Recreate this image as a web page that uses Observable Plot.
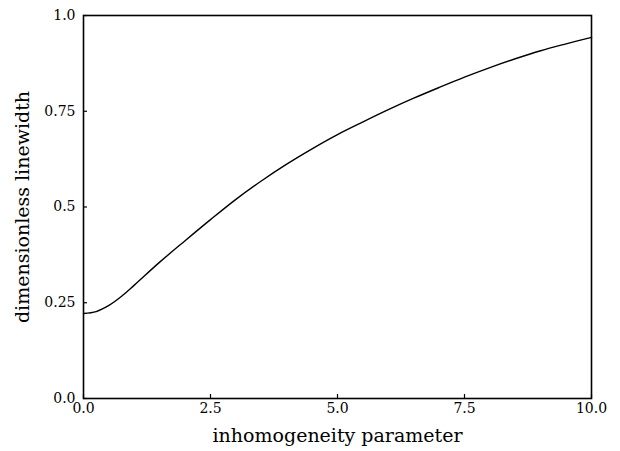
<!DOCTYPE html>
<html>
<head>
<meta charset="utf-8">
<script src="https://cdn.jsdelivr.net/npm/d3@7"></script>
<script src="https://cdn.jsdelivr.net/npm/@observablehq/plot@0.6"></script>
<style>
  html, body { margin: 0; padding: 0; background: #fff; }
  #chart svg { display: block; }
</style>
</head>
<body>
<div id="chart"></div>
<script>
const xValues = [0, 0.25, 0.5, 0.75, 1, 1.5, 2, 2.5, 3, 3.5, 4, 4.5, 5, 5.5, 6, 6.5, 7, 7.5, 8, 8.5, 9, 9.5, 10];
const yValues = [0.222, 0.227, 0.243, 0.267, 0.296, 0.356, 0.412, 0.467, 0.520, 0.568, 0.612, 0.652, 0.689, 0.722, 0.754, 0.784, 0.812, 0.839, 0.864, 0.887, 0.908, 0.926, 0.943];
const xTicks = [0, 2.5, 5, 7.5, 10];
const xTickLabels = ["0.0", "2.5", "5.0", "7.5", "10.0"];
const yTicks = [0, 0.25, 0.5, 0.75, 1];
const yTickLabels = ["0.0", "0.25", "0.5", "0.75", "1.0"];
const xLabel = "inhomogeneity parameter";
const yLabel = "dimensionless linewidth";

const data = xValues.map((x, i) => ({x, y: yValues[i]}));

const chart = Plot.plot({
  width: 620,
  height: 451,
  marginLeft: 83,
  marginRight: 29,
  marginTop: 15,
  marginBottom: 53,
  style: {fontFamily: "DejaVu Serif", fontSize: "14px", color: "#000", background: "#fff"},
  x: {domain: [0, 10]},
  y: {domain: [0, 1]},
  marks: [
    Plot.axisX({ticks: xTicks, tickSize: -4, text: null, label: null, strokeWidth: 1.2}),
    Plot.axisX({ticks: xTicks, tickSize: 0, tickPadding: 5, tickFormat: d => xTickLabels[xTicks.indexOf(d)], label: null, fontSize: 14}),
    Plot.axisY({ticks: yTicks, tickSize: -4, text: null, label: null, strokeWidth: 1.2}),
    Plot.axisY({ticks: yTicks, tickSize: 0, tickPadding: 8, tickFormat: d => yTickLabels[yTicks.indexOf(d)], label: null, fontSize: 14}),
    Plot.frame({stroke: "#000", strokeWidth: 1.6}),
    Plot.line(data, {x: "x", y: "y", stroke: "#000", strokeWidth: 1.4, curve: "catmull-rom"}),
    Plot.text([xLabel], {frameAnchor: "bottom", dy: 43, text: d => d, fontSize: 19, fill: "#000"}),
    Plot.text([yLabel], {frameAnchor: "left", rotate: -90, dx: -61, textAnchor: "middle", text: d => d, fontSize: 19, fill: "#000"})
  ]
});
document.getElementById("chart").appendChild(chart);
</script>
</body>
</html>
